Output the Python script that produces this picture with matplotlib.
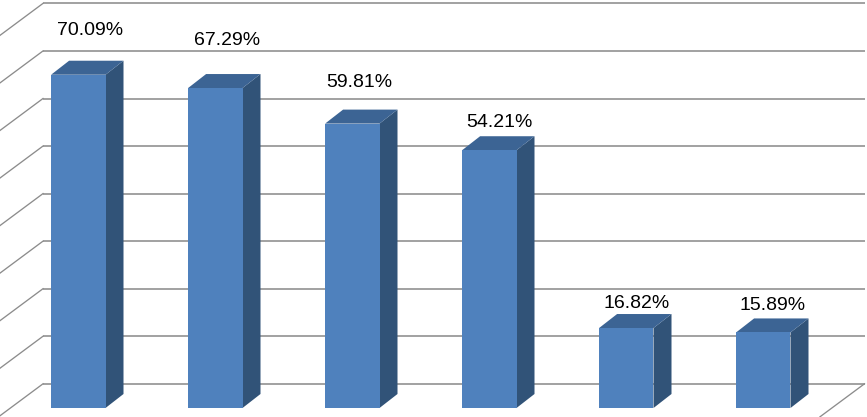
import matplotlib
matplotlib.use("Agg")
import matplotlib.pyplot as plt
from matplotlib.patches import Polygon

plt.rcParams['font.family'] = ['Liberation Sans', 'DejaVu Sans']

values = [70.09, 67.29, 59.81, 54.21, 16.82, 15.89]
labels = ["70.09%", "67.29%", "59.81%", "54.21%", "16.82%", "15.89%"]
grid_values = [0, 10, 20, 30, 40, 50, 60, 70, 80]

W, H = 867, 417
fig = plt.figure(figsize=(W / 100, H / 100), dpi=100, facecolor='white')
ax = fig.add_axes([0, 0, 1, 1])
ax.axis('off')

# scales: one category = 137 px, one percent = 4.755 px
PX_X, PX_Y = 137.0, 4.755
X0, Y0 = 78.3, 408.0              # pixel of category 0 centre / value 0 on the front plane
ax.set_xlim(-X0 / PX_X, (W - X0) / PX_X)
ax.set_ylim(-(H - Y0) / PX_Y, Y0 / PX_Y)

dx = lambda px: px / PX_X
dy = lambda px: px / PX_Y

# back wall grid and side diagonals
wall_l, wall_r = dx(43 - X0), dx(864.5 - X0)
wall_base = dy(24.2)
gc = '#8C8C8C'
for g in grid_values:
    y = g + wall_base
    ax.plot([wall_l, wall_r], [y, y], color=gc, lw=1.15, zorder=1, solid_capstyle='butt')
    ax.plot([wall_l - dx(44), wall_l], [y - dy(32.7), y], color=gc, lw=0.95, zorder=1)
ax.plot([wall_r - dx(44.5), wall_r], [wall_base - dy(33), wall_base], color=gc, lw=0.95, zorder=1)

# 3-D bars
half = dx(27.2)
ddx, ddy = dx(18), dy(14)
for i, v in enumerate(values):
    l, r = i - half, i + half
    ax.add_patch(Polygon([(r, 0), (r + ddx, ddy), (r + ddx, v + ddy), (r, v)],
                         closed=True, fc='#315378', ec='none', zorder=3))
    ax.add_patch(Polygon([(l, v), (l + ddx, v + ddy), (r + ddx, v + ddy), (r, v)],
                         closed=True, fc='#3C6494', ec='none', zorder=3))
    ax.add_patch(Polygon([(l, 0), (r, 0), (r, v), (l, v)],
                         closed=True, fc='#4F81BD', ec='none', zorder=4))

# data labels (manual offsets in pixels from the bar's front-top centre)
offsets = [(11.5, 44.5), (11.5, 47.5), (6.5, 41.5), (10, 28), (10, 24.5), (9.5, 26.5)]
for i, (v, t, off) in enumerate(zip(values, labels, offsets)):
    ax.annotate(t, xy=(i, v), xytext=(off[0] * 0.72, off[1] * 0.72), textcoords='offset points',
                ha='center', va='center', fontsize=14, color='black', zorder=5)

fig.savefig('out.png', dpi=100, facecolor='white')
